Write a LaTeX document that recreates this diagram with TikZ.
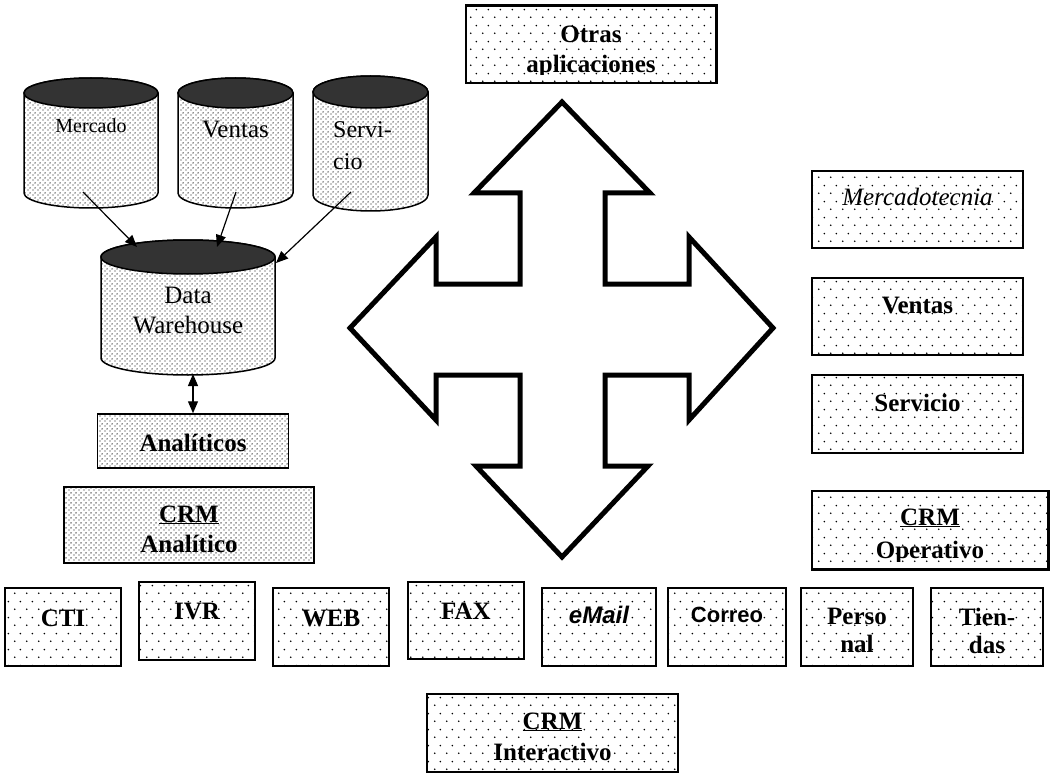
\documentclass[tikz,border=0pt]{standalone}
\usepackage{fontspec}
\setmainfont{Liberation Serif}
\newfontfamily\arialfont{Liberation Sans}
\usetikzlibrary{patterns,arrows.meta}

% fine dot screen (databases, analytic layer)
\pgfdeclarepatternformonly{densedots}{\pgfqpoint{0pt}{0pt}}{\pgfqpoint{4.5pt}{4.5pt}}{\pgfqpoint{4.5pt}{4.5pt}}{%
  \pgfpathcircle{\pgfqpoint{1.1pt}{1.1pt}}{0.8pt}%
  \pgfpathcircle{\pgfqpoint{3.35pt}{3.35pt}}{0.8pt}%
  \pgfusepath{fill}}
% open dot screen (operational / interaction boxes)
\pgfdeclarepatternformonly{sparsedots}{\pgfqpoint{0pt}{0pt}}{\pgfqpoint{12pt}{16pt}}{\pgfqpoint{12pt}{16pt}}{%
  \pgfpathcircle{\pgfqpoint{3pt}{4pt}}{0.95pt}%
  \pgfpathcircle{\pgfqpoint{9pt}{12pt}}{0.95pt}%
  \pgfusepath{fill}}

\definecolor{drumtop}{HTML}{333333}

\newcommand\stackpair[2]{\begin{tabular}[t]{@{}c@{}}#1\\#2\end{tabular}}

% database drum: name, left x, right x, top y, bottom y, cap radius
\newcommand\drum[6]{%
  \pgfmathsetmacro\drumcx{(#2+#3)/2}%
  \pgfmathsetmacro\drumrx{(#3-#2)/2}%
  \path[dense] (#2,#4) -- (#2,#5)
    arc[start angle=180,end angle=0,x radius=\drumrx,y radius=#6]
    -- (#3,#4)
    arc[start angle=0,end angle=-180,x radius=\drumrx,y radius=#6] -- cycle;
  \draw[line width=1.5pt, fill=drumtop] (\drumcx,#4) ellipse[x radius=\drumrx, y radius=#6];
  \coordinate (#1) at (\drumcx,{(#4+#5)/2});
}

\tikzset{
  dense/.style={draw=black, line width=1.5pt, preaction={fill=white},
    pattern=densedots, pattern color=black!90, inner sep=0pt},
  sparse/.style={draw=black, line width=1.5pt, preaction={fill=white},
    pattern=sparsedots, pattern color=black, inner sep=0pt},
  lbl/.style={font=\fontsize{25}{30}\selectfont\bfseries, inner sep=0pt, anchor=base},
  plain/.style={font=\fontsize{25}{30}\selectfont, inner sep=0pt, anchor=base},
  flow/.style={line width=1.2pt, -{Triangle[length=12pt,width=10pt]}},
  bothflow/.style={line width=1.2pt, {Triangle[length=12pt,width=10pt]}-{Triangle[length=12pt,width=10pt]}},
  bigarrow/.style={draw=black, line width=5pt, fill=white, line join=miter},
}

\begin{document}
\begin{tikzpicture}[x=1pt,y=-1pt]
\useasboundingbox (0,0) rectangle (1061,773);

% ---- source databases and warehouse ----
\drum{dbmerc}{24}{158}{93}{193}{15}
\drum{dbvent}{178}{293}{93}{193}{15}
\drum{dbserv}{313}{428}{92}{195}{16}
\drum{dbdw}{101}{275}{257}{358}{17}

\node[font=\fontsize{20}{24}\selectfont, inner sep=0pt, anchor=base] (mercado) at (91,133) {Mercado};
\node[plain] (ventas) at (235.5,138) {Ventas};
\node[font=\fontsize{24}{32}\selectfont, inner sep=0pt, anchor=base west] (servicio) at (333,138)
  {\begin{tabular}[t]{@{}l@{}}Servi-\\cio\end{tabular}};
\node[plain] (dwtext) at (188,303) {\stackpair{Data}{Warehouse}};

\coordinate (merc-out) at (83,192);
\coordinate (vent-out) at (236,192);
\coordinate (serv-out) at (351,192);
\coordinate (dw-in-a) at (137,247);
\coordinate (dw-in-b) at (217,247);
\coordinate (dw-in-c) at (276,263);
\coordinate (dw-bottom) at (193,374);

% ---- analytic CRM ----
\node[dense, minimum width=191pt, minimum height=54pt] (anal) at (193,441) {};
\node[lbl] (anal-t) at (193,451) {Analíticos};
\node[dense, minimum width=250pt, minimum height=76pt] (crman) at (189,525) {};
\node[lbl] (crman-t) at (189,522) {\stackpair{\underline{CRM}}{Analítico}};

\draw[flow] (merc-out) -- (dw-in-a);
\draw[flow] (vent-out) -- (dw-in-b);
\draw[flow] (serv-out) -- (dw-in-c);
\draw[bothflow] (dw-bottom) -- (anal.north);

% ---- four-way exchange arrow ----
\draw[bigarrow] (562,102) -- (650,193) -- (605,193) -- (605,284) -- (689,284) -- (689,237)
  -- (773,328) -- (689,420) -- (689,375) -- (605,375) -- (605,466) -- (648,466)
  -- (562,557) -- (476,466) -- (520,466) -- (520,375) -- (436,375) -- (436,420)
  -- (350,328) -- (436,237) -- (436,284) -- (520,284) -- (520,193) -- (474,193) -- cycle;

% ---- other applications ----
\node[sparse, minimum width=250pt, minimum height=77pt] (otras) at (591,44.5) {};
\begin{scope}
  \clip (otras.north west) rectangle (716,75);
  \node[lbl] (otras-t) at (591,43) {\stackpair{Otras}{aplicaciones}};
\end{scope}
\draw[line width=1.5pt] (otras.south west) rectangle (otras.north east);

% ---- operational CRM ----
\node[sparse, minimum width=211pt, minimum height=77pt] (mkt) at (917.5,209.5) {};
\node[plain, font=\fontsize{25}{30}\selectfont\itshape] (mkt-t) at (917.5,206) {Mercadotecnia};
\node[sparse, minimum width=211pt, minimum height=77pt] (vtas) at (917.5,316.5) {};
\node[lbl] (vtas-t) at (917.5,313) {Ventas};
\node[sparse, minimum width=211pt, minimum height=78pt] (serv) at (917.5,414) {};
\node[lbl] (serv-t) at (917.5,411) {Servicio};
\node[sparse, minimum width=236pt, minimum height=78pt] (crmop) at (930,530) {};
\begin{scope}
  \clip (crmop.north west) rectangle (1048,561);
  \node[font=\fontsize{25}{33}\selectfont\bfseries, inner sep=0pt, anchor=base] (crmop-t) at (930,525)
    {\stackpair{\underline{CRM}}{Operativo}};
\end{scope}
\draw[line width=1.5pt] (crmop.south west) rectangle (crmop.north east);

% ---- interaction channels ----
\node[sparse, minimum width=116pt, minimum height=78pt] (cti) at (63,627) {};
\node[lbl] (cti-t) at (63,626) {CTI};
\node[sparse, minimum width=116pt, minimum height=78pt] (ivr) at (197,621) {};
\node[lbl] (ivr-t) at (197,619) {IVR};
\node[sparse, minimum width=116pt, minimum height=78pt] (web) at (331,627) {};
\node[lbl] (web-t) at (331,626) {WEB};
\node[sparse, minimum width=116pt, minimum height=77pt] (fax) at (466,620.5) {};
\node[lbl] (fax-t) at (466,619) {FAX};
\node[sparse, minimum width=114pt, minimum height=78pt] (email) at (599,627) {};
\node[lbl, font=\arialfont\fontsize{24}{29}\selectfont\bfseries\itshape] (email-t) at (599,623) {eMail};
\node[sparse, minimum width=118pt, minimum height=78pt] (correo) at (727,627) {};
\node[lbl, font=\arialfont\fontsize{22}{27}\selectfont\bfseries] (correo-t) at (727,622) {Correo};
\node[sparse, minimum width=112pt, minimum height=78pt] (pers) at (857,627) {};
\node[font=\fontsize{25}{28}\selectfont\bfseries, inner sep=0pt, anchor=base] (pers-t) at (857,624) {\stackpair{Perso}{nal}};
\node[sparse, minimum width=112pt, minimum height=78pt] (tiend) at (987,627) {};
\node[font=\fontsize{25}{28}\selectfont\bfseries, inner sep=0pt, anchor=base] (tiend-t) at (987,625) {\stackpair{Tien-}{das}};

\node[sparse, minimum width=251pt, minimum height=78pt] (crmint) at (552.5,733) {};
\node[font=\fontsize{25}{31}\selectfont\bfseries, inner sep=0pt, anchor=base] (crmint-t) at (552.5,729)
  {\stackpair{\underline{CRM}}{Interactivo}};

\end{tikzpicture}
\end{document}
